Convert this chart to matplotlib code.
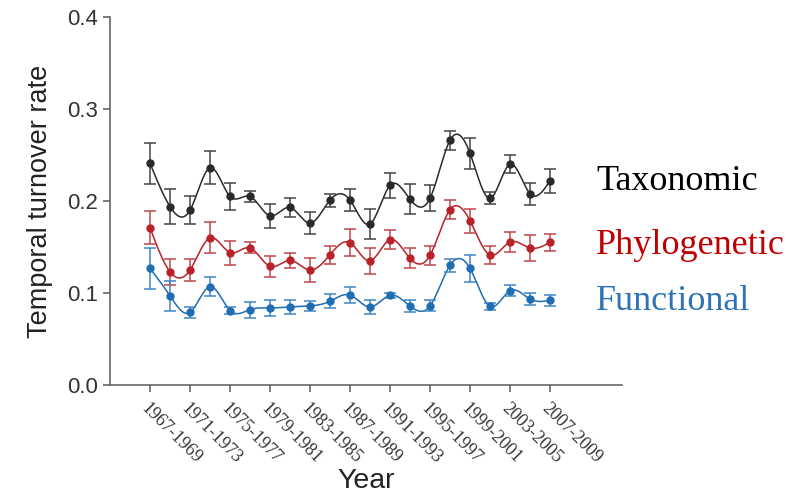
import numpy as np
import matplotlib
matplotlib.use("Agg")
import matplotlib.pyplot as plt

periods = [f"{y}-{y+2}" for y in range(1967, 2008, 2)]
tick_labels = periods[::2]

taxonomic = [0.241, 0.194, 0.190, 0.236, 0.205, 0.205, 0.184, 0.193, 0.176, 0.201,
             0.201, 0.175, 0.217, 0.202, 0.203, 0.266, 0.252, 0.203, 0.240, 0.208, 0.222]
taxonomic_err = [0.022, 0.019, 0.015, 0.018, 0.015, 0.006, 0.013, 0.010, 0.012, 0.007,
                 0.012, 0.016, 0.014, 0.016, 0.014, 0.010, 0.017, 0.0065, 0.010, 0.012, 0.013]
phylogenetic = [0.171, 0.123, 0.125, 0.160, 0.144, 0.149, 0.129, 0.1355, 0.125, 0.1416,
                0.1547, 0.135, 0.158, 0.1377, 0.141, 0.1906, 0.1786, 0.1413, 0.1554, 0.149, 0.155]
phylogenetic_err = [0.018, 0.0145, 0.012, 0.017, 0.013, 0.006, 0.0116, 0.008, 0.013, 0.010,
                    0.0145, 0.014, 0.010, 0.011, 0.010, 0.010, 0.013, 0.010, 0.0105, 0.014, 0.009]
functional = [0.1268, 0.097, 0.079, 0.107, 0.081, 0.082, 0.0837, 0.085, 0.086, 0.091,
              0.0978, 0.0848, 0.0975, 0.0859, 0.086, 0.130, 0.1268, 0.0855, 0.1025, 0.0935, 0.092]
functional_err = [0.0225, 0.016, 0.006, 0.0105, 0.004, 0.0087, 0.009, 0.0076, 0.0054, 0.0076,
                  0.0084, 0.0076, 0.003, 0.0065, 0.006, 0.0072, 0.0145, 0.0036, 0.0062, 0.0062, 0.0058]


def natural_spline(x, y, n=20):
    x = np.asarray(x, float); y = np.asarray(y, float)
    m = len(x); h = np.diff(x)
    A = np.zeros((m, m)); b = np.zeros(m)
    A[0, 0] = A[-1, -1] = 1
    for i in range(1, m - 1):
        A[i, i - 1] = h[i - 1]; A[i, i] = 2 * (h[i - 1] + h[i]); A[i, i + 1] = h[i]
        b[i] = 3 * ((y[i + 1] - y[i]) / h[i] - (y[i] - y[i - 1]) / h[i - 1])
    c = np.linalg.solve(A, b)
    xs, ys = [], []
    for i in range(m - 1):
        t = np.linspace(0, h[i], n, endpoint=False)
        bi = (y[i + 1] - y[i]) / h[i] - h[i] * (2 * c[i] + c[i + 1]) / 3
        di = (c[i + 1] - c[i]) / (3 * h[i])
        xs.append(x[i] + t); ys.append(y[i] + bi * t + c[i] * t ** 2 + di * t ** 3)
    xs.append([x[-1]]); ys.append([y[-1]])
    return np.concatenate(xs), np.concatenate(ys)


fig = plt.figure(figsize=(8, 5.01), dpi=100)
ax = fig.add_axes([0.1375, 0.2315, 0.64, 0.7345])

x = np.arange(len(periods))
series = [
    (taxonomic, taxonomic_err, "#2a2a2a", "#444444"),
    (phylogenetic, phylogenetic_err, "#b82228", "#c0474b"),
    (functional, functional_err, "#1f6db3", "#3f85c6"),
]
for vals, err, col, ecol in series:
    sx, sy = natural_spline(x, vals)
    ax.plot(sx, sy, color=col, lw=1.1, zorder=2)
    ax.errorbar(x, vals, yerr=err, fmt="none", ecolor=ecol, elinewidth=1.1,
                capsize=4.5, capthick=1.1, zorder=3)
    ax.plot(x, vals, "o", color=col, ms=5, zorder=4)

fig.text(596 / 800, 1 - 182 / 501, "Taxonomic", color="#000000", fontsize=26,
         family="Liberation Serif", va="center", ha="left")
fig.text(596 / 800, 1 - 245 / 501, "Phylogenetic", color="#c00000", fontsize=26,
         family="Liberation Serif", va="center", ha="left")
fig.text(596 / 800, 1 - 302 / 501, "Functional", color="#2e74b5", fontsize=26,
         family="Liberation Serif", va="center", ha="left")

ax.set_xlim(-2, 23.6)
ax.set_ylim(0, 0.4)
ax.set_yticks([0.0, 0.1, 0.2, 0.3, 0.4])
ax.set_yticklabels(["0.0", "0.1", "0.2", "0.3", "0.4"], family="Liberation Sans", fontsize=16,
                   color="#333333")
ax.set_xticks(x[::2])
ax.set_xticklabels(tick_labels, rotation=-45, ha="left", va="top", rotation_mode="anchor",
                   family="Liberation Serif", fontsize=13, color="#333333")
for s in ["top", "right"]:
    ax.spines[s].set_visible(False)
for s in ["left", "bottom"]:
    ax.spines[s].set_color("#666666")
    ax.spines[s].set_linewidth(1.2)
ax.tick_params(direction="out", length=5, color="#666666", width=1.2)
ax.tick_params(axis="x", pad=6)
ax.set_ylabel("Temporal turnover rate", family="Liberation Sans", fontsize=19.5, color="#222222",
              labelpad=10)
ax.set_xlabel("Year", family="Liberation Sans", fontsize=20.5, color="#222222", labelpad=0)

fig.savefig("out.png", dpi=100)
